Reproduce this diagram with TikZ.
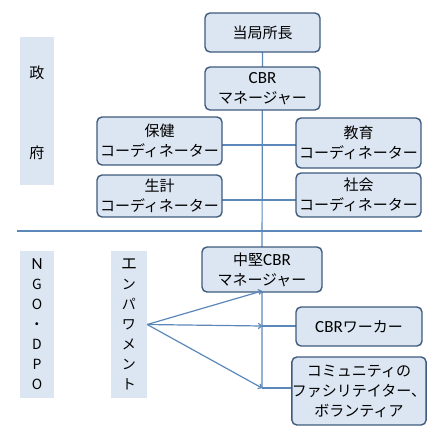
\documentclass[tikz,border=0pt]{standalone}
\usepackage{fontspec}
\setmainfont{Noto Sans CJK JP}
\newfontfamily\latf{Carlito}
\newcommand{\lat}{\latf\fontsize{17}{20}\selectfont}
\usetikzlibrary{arrows.meta}
\definecolor{boxfill}{HTML}{DCE6F2}
\definecolor{boxline}{HTML}{3F5B7D}
\definecolor{conn}{HTML}{5B87B9}
\begin{document}
\begin{tikzpicture}[x=1pt,y=-1pt,
  orgbox/.style={draw=boxline,line width=1.4pt,fill=boxfill,rounded corners=5pt,
    align=center,inner sep=0pt,font=\fontsize{15}{20}\selectfont},
  band/.style={fill=boxfill,inner sep=0pt,align=center,font=\fontsize{14}{20}\selectfont},
  link/.style={draw=conn,line width=1.2pt},
  arr/.style={link,-{To[length=4pt,width=6pt]}}]
\useasboundingbox (0,0) rectangle (440,440);
% bands
\node[band,minimum width=34pt,minimum height=148pt] (seifu) at (37,111) {};
\node at (37,73) (sei) {\fontsize{15}{18}\selectfont 政};
\node at (37,153) (fu) {\fontsize{15}{18}\selectfont 府};
\node[band,minimum width=34pt,minimum height=147pt] (ngo) at (37,324.5)
  {\latf\fontsize{17}{20}\selectfont N\\G\\O\\{\fontsize{14}{20}\selectfont ・}\\D\\P\\O};
\node[band,minimum width=36pt,minimum height=147pt] (emp) at (129,324.5)
  {\fontsize{16}{20}\selectfont エ\\ン\\パ\\ワ\\メ\\ン\\ト};
% separator
\coordinate (sepL) at (17,231);
\coordinate (sepR) at (422,231);
\draw[link] (sepL) -- (sepR);
% junctions
\coordinate (j1) at (262,326);
\coordinate (j2) at (262,388);
\coordinate (a1) at (262,291);
% connectors behind boxes
\draw[link] (262.5,32.5) -- (262,269.5) -- (j2);
\draw[link] (159.5,145) -- (358.5,145);
\draw[link] (159.5,200) -- (358.5,200);
\draw[link] (j1) -- (359,326);
\draw[link] (j2) -- (359,388);
% boxes
\node[orgbox,minimum width=115pt,minimum height=39pt] (top) at (262.5,32.5) {当局所長};
\node[orgbox,minimum width=115pt,minimum height=43pt] (cbr) at (262.5,88.5) {{\lat CBR}\\マネージャー};
\node[orgbox,minimum width=125pt,minimum height=48pt] (hoken) at (159.5,141) {保健\\コーディネーター};
\node[orgbox,minimum width=125pt,minimum height=50pt] (kyoiku) at (358.5,143) {教育\\コーディネーター};
\node[orgbox,minimum width=125pt,minimum height=42pt] (seikei) at (159.5,196) {生計\\コーディネーター};
\node[orgbox,minimum width=125pt,minimum height=44pt] (shakai) at (358.5,195) {社会\\コーディネーター};
\node[orgbox,minimum width=120pt,minimum height=45pt] (chuken) at (262,269.5) {中堅{\lat CBR}\\マネージャー};
\node[orgbox,minimum width=126pt,minimum height=39pt] (worker) at (359,326.5) {{\lat CBR}ワーカー};
\node[orgbox,minimum width=126pt,minimum height=68pt] (comm) at (359,391) {コミュニティの\\ファシリテイター、\\ボランティア};
% arrows
\draw[arr] (emp.east) -- (a1);
\draw[arr] (emp.east) -- (j1);
\draw[arr] (emp.east) -- (j2);
\end{tikzpicture}
\end{document}
